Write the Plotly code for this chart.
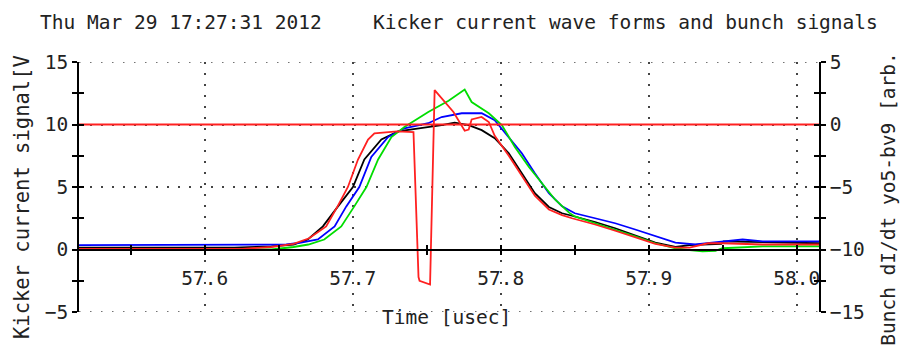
import plotly.graph_objects as go

# ---------------- data ----------------
t_black = [57.515, 57.62, 57.645, 57.66, 57.6696, 57.6798, 57.69, 57.7001, 57.7078, 57.7193,
           57.7306, 57.7397, 57.7464, 57.76, 57.7688, 57.7783, 57.7871, 57.7959, 57.8054, 57.8142,
           57.823, 57.8325, 57.8414, 57.8481, 57.8637, 57.8773, 57.8908, 57.9044, 57.918, 57.9275,
           57.9363, 57.949, 57.9505, 57.977, 58.015]
v_black = [0.15, 0.15, 0.25, 0.4, 0.8, 1.85, 3.45, 5.0, 7.2, 8.8,
           9.45, 9.6, 9.7, 9.95, 10.15, 9.95, 9.55, 8.9, 7.7, 6.1,
           4.5, 3.4, 2.9, 2.7, 2.2, 1.7, 1.1, 0.55, 0.2, 0.35,
           0.4, 0.45, 0.65, 0.6, 0.5]

t_red = [57.515, 57.625, 57.645, 57.66, 57.6705, 57.682, 57.6897, 57.6967, 57.7035, 57.7103,
         57.7146, 57.73, 57.741, 57.7444, 57.7451, 57.7512, 57.7522, 57.7553, 57.768, 57.7756,
         57.7783, 57.7803, 57.787, 57.7919, 57.7959, 57.8054, 57.8142, 57.823, 57.8325, 57.8414,
         57.8481, 57.8637, 57.8773, 57.8908, 57.9044, 57.918, 57.9275, 57.94, 57.9498, 57.977, 58.015]
v_red = [0.05, 0.05, 0.2, 0.45, 0.9, 1.85, 3.45, 5.0, 7.2, 8.8,
         9.3, 9.45, 9.4, -2.2, -2.5, -2.8, -2.8, 12.75, 11.0, 9.5,
         9.6, 10.4, 10.6, 10.2, 9.1, 7.5, 5.9, 4.3, 3.2, 2.75,
         2.5, 2.0, 1.5, 0.95, 0.45, 0.15, 0.15, 0.5, 0.5, 0.4, 0.4]

t_blue = [57.515, 57.64, 57.655, 57.665, 57.6764, 57.6877, 57.6956, 57.7044, 57.7125, 57.7239,
          57.7349, 57.751, 57.76, 57.7736, 57.7871, 57.7959, 57.8054, 57.8142, 57.823, 57.8325,
          57.8414, 57.85, 57.8637, 57.8773, 57.8908, 57.9044, 57.918, 57.9315, 57.9498, 57.9634,
          57.977, 58.015]
v_blue = [0.35, 0.35, 0.4, 0.55, 0.8, 1.85, 3.45, 5.0, 7.4, 9.0,
          9.7, 10.1, 10.6, 10.9, 10.9, 10.35, 9.0, 7.7, 6.1, 4.5,
          3.45, 2.9, 2.5, 2.1, 1.6, 1.05, 0.55, 0.4, 0.6, 0.8,
          0.65, 0.65]

t_green = [57.515, 57.645, 57.66, 57.67, 57.6807, 57.6922, 57.701, 57.7092, 57.7171, 57.7261,
           57.7349, 57.751, 57.7647, 57.7756, 57.7803, 57.7919, 57.8007, 57.8095, 57.819, 57.8278,
           57.8366, 57.8461, 57.85, 57.8637, 57.8773, 57.8908, 57.9044, 57.918, 57.9275, 57.9363,
           57.945, 57.9498, 57.977, 58.015]
v_green = [0.0, 0.0, 0.2, 0.4, 0.8, 1.85, 3.45, 5.0, 7.2, 9.0,
           9.8, 11.0, 11.9, 12.8, 11.8, 10.9, 9.95, 8.2, 6.6, 5.3,
           4.0, 2.95, 2.65, 2.1, 1.6, 1.05, 0.5, 0.1, -0.05, -0.15,
           -0.1, 0.1, 0.25, 0.25]

t_bunch = [57.515, 58.015]
v_bunch = [0.0, 0.0]

x_range = [57.515, 58.015]
y_left_range = [-5, 15]
y_right_range = [-15, 5]
x_tickvals = [57.6, 57.7, 57.8, 57.9, 58.0]
x_ticktext = ["57.6", "57.7", "57.8", "57.9", "58.0"]

title_date = "Thu Mar 29 17:27:31 2012"
title_main = "Kicker current wave forms and bunch signals"
x_title = "Time [usec]"
y_left_title = "Kicker current signal[V"
y_right_title = "Bunch dI/dt yo5-bv9 [arb."

# ---------------- figure ----------------
FONT = "DejaVu Sans Mono"
FS = 19.5
TXT = "#222222"
GRID = "#444444"
DASH = "1.5px,9.5px"
LW = 1.8

fig = go.Figure()

# dotted grid rows along the top and bottom edges of the frame
for yv in y_left_range:
    fig.add_trace(go.Scatter(x=x_range, y=[yv, yv], mode="lines", hoverinfo="skip",
                             line=dict(color=GRID, width=1.5, dash=DASH), showlegend=False,
                             cliponaxis=False))

fig.add_trace(go.Scatter(x=t_bunch, y=v_bunch, mode="lines", yaxis="y2",
                         line=dict(color="#ff2020", width=LW), showlegend=False))
fig.add_trace(go.Scatter(x=t_black, y=v_black, mode="lines",
                         line=dict(color="#000000", width=LW), showlegend=False))
fig.add_trace(go.Scatter(x=t_blue, y=v_blue, mode="lines",
                         line=dict(color="#0000ff", width=LW), showlegend=False))
fig.add_trace(go.Scatter(x=t_green, y=v_green, mode="lines",
                         line=dict(color="#00dd00", width=LW), showlegend=False))
fig.add_trace(go.Scatter(x=t_red, y=v_red, mode="lines",
                         line=dict(color="#ff2020", width=LW), showlegend=False))

# invisible helpers so overlaying tick axes are drawn
for xa, ya in [("x2", "y"), ("x", "y3"), ("x", "y4")]:
    fig.add_trace(go.Scatter(x=[x_tickvals[0]], y=[v_bunch[0]], xaxis=xa, yaxis=ya,
                             mode="markers", marker=dict(opacity=0), hoverinfo="skip",
                             showlegend=False))

tickstyle = dict(tickcolor="black", tickwidth=1.5, ticklen=5)

# page body has an 8px margin: the figure is sized/offset to keep the plot frame in place
fig.update_layout(
    width=901, height=346,
    margin=dict(l=71, r=90, t=54, b=42),
    paper_bgcolor="white", plot_bgcolor="white",
    font=dict(family=FONT, size=FS, color=TXT),
    showlegend=False,
    xaxis=dict(range=x_range, anchor="free", position=0.25,
               showline=True, linecolor="black", linewidth=1.5,
               ticks="outside", **tickstyle,
               tickvals=x_tickvals, ticktext=x_ticktext,
               ticklabelstandoff=6,
               showgrid=True, gridcolor=GRID, gridwidth=1.5, griddash=DASH,
               minor=dict(dtick=0.05, tick0=57.6, ticks="outside", showgrid=False, **tickstyle),
               zeroline=False, fixedrange=True),
    xaxis2=dict(range=x_range, overlaying="x", anchor="free", position=0.25,
                showline=False, ticks="inside", **tickstyle,
                tickvals=x_tickvals, showticklabels=False, showgrid=False,
                minor=dict(dtick=0.05, tick0=57.6, ticks="inside", showgrid=False, **tickstyle),
                zeroline=False),
    yaxis=dict(range=y_left_range, showline=True, linecolor="black", linewidth=1.5,
               ticks="outside", **tickstyle, dtick=5, tick0=0,
               showgrid=True, gridcolor=GRID, gridwidth=1.5, griddash=DASH,
               minor=dict(dtick=2.5, ticks="outside", showgrid=False, **tickstyle),
               zeroline=False),
    yaxis3=dict(range=y_left_range, overlaying="y", side="left", showline=False,
                ticks="inside", **tickstyle, dtick=5, tick0=0, showticklabels=False,
                showgrid=False, minor=dict(dtick=2.5, ticks="inside", showgrid=False, **tickstyle),
                zeroline=False),
    yaxis2=dict(range=y_right_range, overlaying="y", side="right", showline=True,
                linecolor="black", linewidth=1.5,
                ticks="outside", **tickstyle, dtick=5, tick0=0,
                showgrid=False, minor=dict(dtick=2.5, ticks="outside", showgrid=False, **tickstyle),
                zeroline=False),
    yaxis4=dict(range=y_right_range, overlaying="y", side="right", showline=False,
                ticks="inside", **tickstyle, dtick=5, tick0=0, showticklabels=False,
                showgrid=False, minor=dict(dtick=2.5, ticks="inside", showgrid=False, **tickstyle),
                zeroline=False),
)

ann = dict(xref="paper", yref="paper", showarrow=False, font=dict(family=FONT, size=FS, color=TXT))
fig.add_annotation(text=title_date, x=-0.0554, y=1.16, xanchor="left", yanchor="middle", **ann)
fig.add_annotation(text=title_main, x=1.0824, y=1.16, xanchor="right", yanchor="middle", **ann)
fig.add_annotation(text=x_title, x=0.497, y=-0.02, xanchor="center", yanchor="middle", **ann)
ann_big = dict(ann)
ann_big["font"] = dict(family=FONT, size=20.5, color=TXT)
fig.add_annotation(text=y_left_title, x=-0.077, y=0.46, xanchor="center", yanchor="middle",
                   textangle=-90, **ann_big)
fig.add_annotation(text=y_right_title, x=1.093, y=0.452, xanchor="center", yanchor="middle",
                   textangle=-90, **ann)

fig.write_html("out.html")
